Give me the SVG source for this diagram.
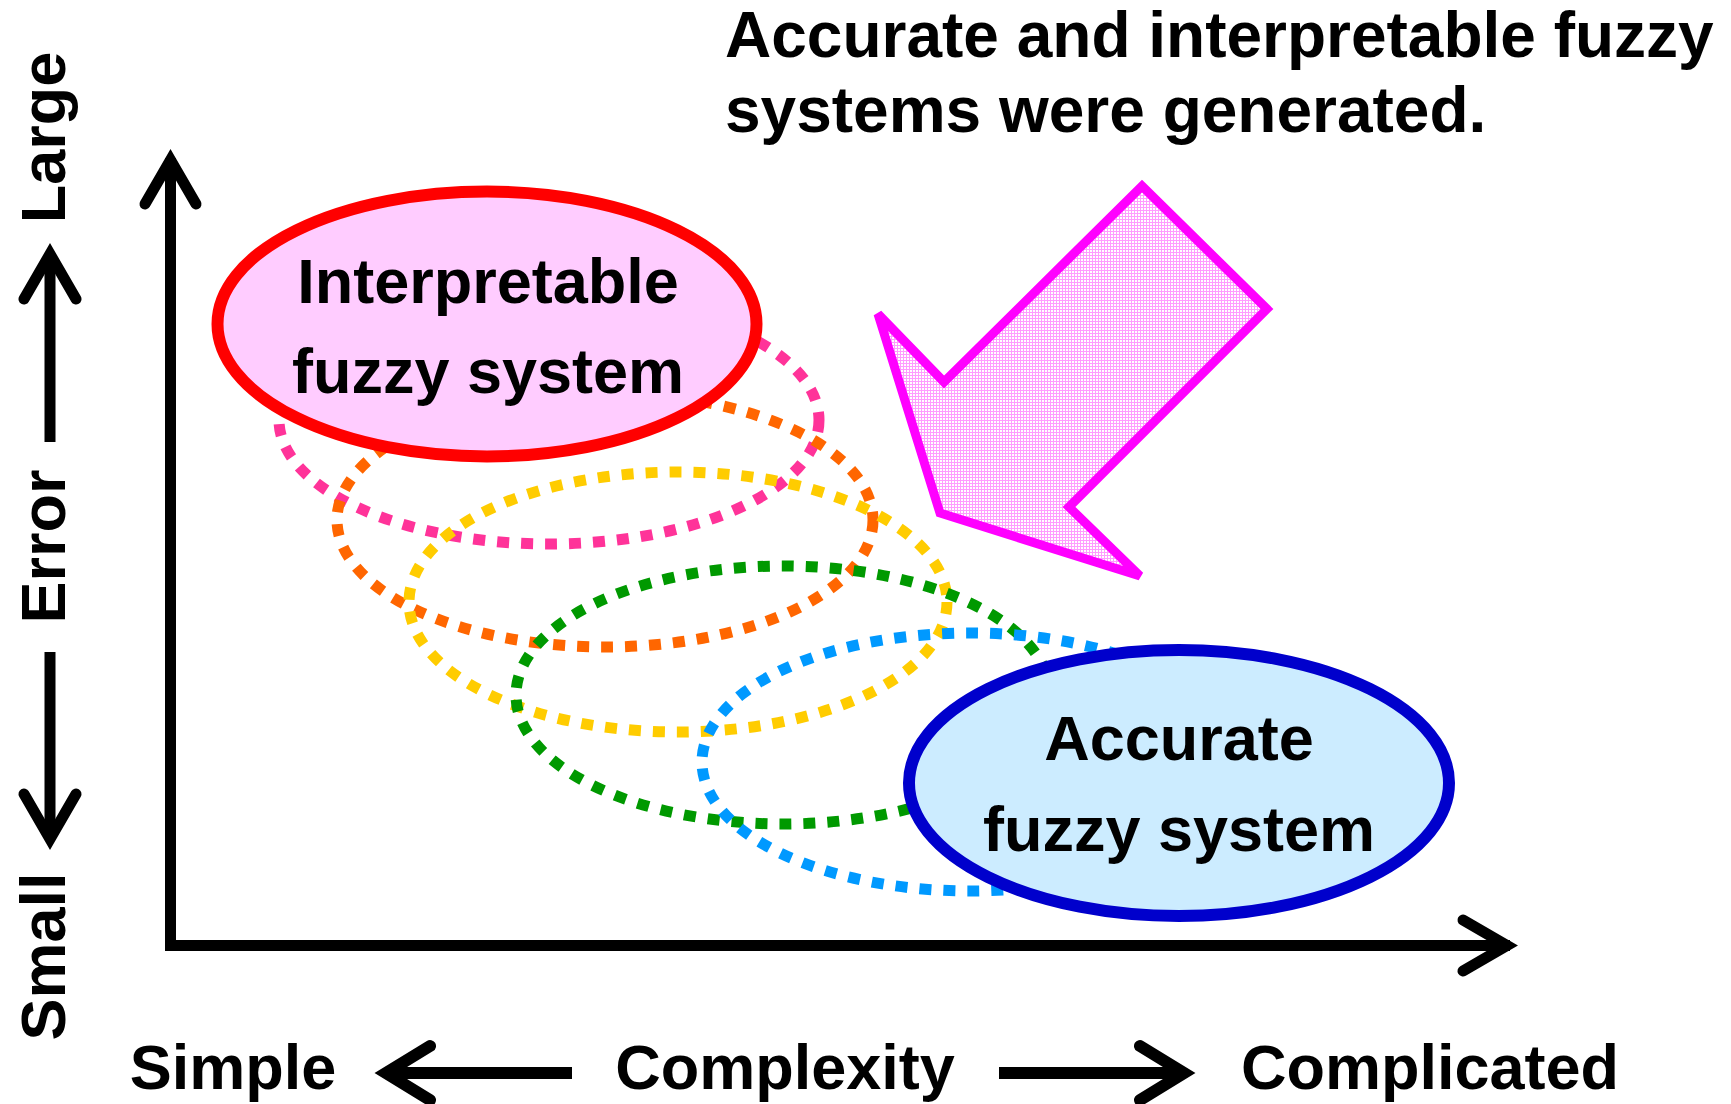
<svg xmlns="http://www.w3.org/2000/svg" width="1731" height="1104" viewBox="0 0 1731 1104">
  <defs>
    <pattern id="pinkdots" width="3" height="3" patternUnits="userSpaceOnUse">
      <rect width="3" height="3" fill="#FFFFFF"/>
      <rect width="3" height="1" fill="#FF9CFF"/>
      <rect width="1" height="3" fill="#FF9CFF"/>
    </pattern>
  </defs>
  <style>
    .t { font-family: "Liberation Sans", Arial, sans-serif; font-weight: bold; fill: #000000; }
    .big { font-size: 63px; }
    .title { font-size: 64px; }
    .mid { text-anchor: middle; }
    .dot { fill: none; stroke-width: 11; stroke-dasharray: 12 12; }
    .ax { fill: none; stroke: #000000; stroke-width: 11; stroke-linejoin: miter; }
    .head { fill: none; stroke: #000000; stroke-width: 11; stroke-linecap: round; stroke-linejoin: miter; stroke-miterlimit: 8; }
    .lab { fill: none; stroke: #000000; stroke-width: 11; stroke-linecap: butt; }
    .labh { fill: none; stroke: #000000; stroke-width: 11; stroke-linecap: round; stroke-linejoin: miter; stroke-miterlimit: 8; }
  </style>
  <rect width="1731" height="1104" fill="#FFFFFF"/>

  <g id="title">
    <text class="t title" x="725" y="57">Accurate and interpretable fuzzy</text>
    <text class="t title" x="725" y="132">systems were generated.</text>
  </g>

  <g id="dotted-systems">
    <ellipse id="sys-pink" class="dot" cx="549" cy="420" rx="270" ry="124" stroke="#FF3399"/>
    <ellipse id="sys-orange" class="dot" cx="605" cy="520" rx="268" ry="127" stroke="#FF6600"/>
    <ellipse id="sys-yellow" class="dot" cx="678" cy="602" rx="269" ry="130" stroke="#FFCC00"/>
    <ellipse id="sys-green" class="dot" cx="783" cy="695" rx="267" ry="129" stroke="#009900"/>
    <ellipse id="sys-blue" class="dot" cx="970" cy="762" rx="268" ry="129" stroke="#0099FF"/>
  </g>

  <g id="interpretable-system">
    <ellipse cx="487" cy="324" rx="269.5" ry="132.5" fill="#FFCCFF" stroke="#FF0000" stroke-width="12"/>
    <text class="t big mid" x="488" y="303">Interpretable</text>
    <text class="t big mid" x="488" y="393">fuzzy system</text>
  </g>

  <g id="accurate-system">
    <ellipse cx="1179" cy="783" rx="270" ry="133" fill="#CCECFF" stroke="#0000CC" stroke-width="12"/>
    <text class="t big mid" x="1179" y="760">Accurate</text>
    <text class="t big mid" x="1179" y="851">fuzzy system</text>
  </g>

  <g id="callout-arrow">
    <polygon points="1142,186 1267,309 1069,507 1140,576 940,513 878,314 944,382" fill="url(#pinkdots)" stroke="#FF00FF" stroke-width="9" stroke-linejoin="miter"/>
  </g>

  <g id="connectors">
    <polyline class="ax" points="170.5,158 170.5,945.5 1510,945.5"/>
    <polyline class="head" points="145,204 170.5,160 196,204"/>
    <polyline class="head" points="1463,920 1507,945.5 1463,971"/>
    <line class="lab" x1="50" y1="442" x2="50" y2="256"/>
    <polyline class="labh" points="24,299 50,254 76,299"/>
    <line class="lab" x1="50" y1="652" x2="50" y2="837"/>
    <polyline class="labh" points="24,794 50,839 76,794"/>
    <line x1="572" y1="1073" x2="388" y2="1073" stroke="#000000" stroke-width="12"/>
    <polyline points="430,1046 386,1073 430,1100" fill="none" stroke="#000000" stroke-width="12" stroke-linecap="round" stroke-linejoin="miter" stroke-miterlimit="8"/>
    <line x1="999" y1="1073" x2="1182" y2="1073" stroke="#000000" stroke-width="12"/>
    <polyline points="1140,1046 1184,1073 1140,1100" fill="none" stroke="#000000" stroke-width="12" stroke-linecap="round" stroke-linejoin="miter" stroke-miterlimit="8"/>
  </g>

  <g id="axis-labels">
    <text class="t big mid" transform="translate(65,137.5) rotate(-90)">Large</text>
    <text class="t big mid" transform="translate(65,546.5) rotate(-90)">Error</text>
    <text class="t big mid" transform="translate(65,956.5) rotate(-90)">Small</text>
    <text class="t big mid" x="233" y="1089">Simple</text>
    <text class="t big mid" x="785" y="1089">Complexity</text>
    <text class="t big mid" x="1430" y="1089">Complicated</text>
  </g>
</svg>
